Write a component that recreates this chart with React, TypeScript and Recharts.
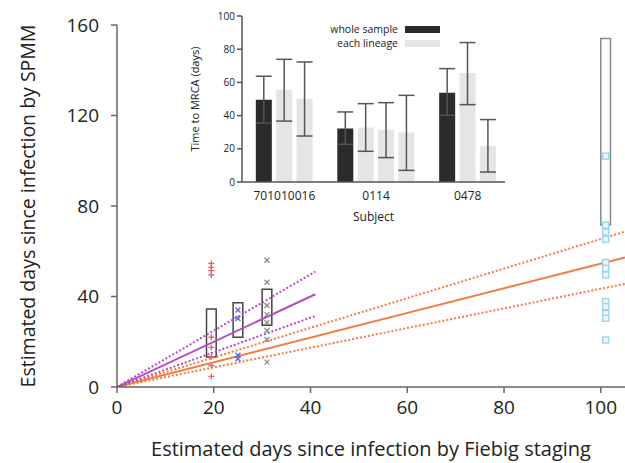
import {
  ComposedChart, Line, Scatter, XAxis, YAxis, ReferenceArea,
  BarChart, Bar, Cell, ErrorBar,
} from 'recharts';

// main panel: Fiebig staging vs SPMM estimate
const fiebigTicks = [0, 20, 40, 60, 80, 100];
const spmmTicks = [0, 40, 80, 120, 160];

const orangeFit = [{ x: 0, y: 0 }, { x: 105, y: 57.3 }];
const orangeUpper = [{ x: 0, y: 0 }, { x: 105, y: 68.7 }];
const orangeLower = [{ x: 0, y: 0 }, { x: 105, y: 45.6 }];
const purpleFit = [{ x: 0, y: 0 }, { x: 41, y: 41 }];
const purpleUpper = [{ x: 0, y: 0 }, { x: 41, y: 51 }];
const purpleLower = [{ x: 0, y: 0 }, { x: 41, y: 31.4 }];

// interquartile boxes per subject
const boxX = [19.5, 25, 31, 101];
const boxLow = [13.3, 22, 27.3, 71.6];
const boxHigh = [34.5, 37.2, 43.2, 154];

const redY = [54.6, 52.9, 51.4, 49.5, 22, 17.5, 13.4, 9.5, 4.7];
const blueY = [34, 30.3, 14, 12.5];
const grayY = [56, 46.3, 36, 32, 28.5, 25, 21, 11];
const cyanY = [102, 71.5, 68.5, 65.3, 55, 52.4, 49.5, 37.7, 35.5, 32.5, 30.4, 20.8];

const redPts = redY.map(y => ({ x: boxX[0], y }));
const bluePts = blueY.map(y => ({ x: boxX[1], y }));
const grayPts = grayY.map(y => ({ x: boxX[2], y }));
const cyanPts = cyanY.map(y => ({ x: boxX[3], y }));

// inset: time to MRCA
const subjects = ['701010016', '0114', '0478'];
const wholeSample = [49.6, 32.2, 53.8];
const wholeLow = [35.5, 22.7, 40.2];
const wholeHigh = [63.7, 42.2, 68.3];
const lineageMean = [[55.7, 50.2], [32.8, 31.6, 29.9], [65.7, 21.7]];
const lineageLow = [[36.7, 27.7], [18.5, 14.7, 7], [46.6, 6]];
const lineageHigh = [[73.9, 72.3], [47.2, 47.8, 52.2], [84, 37.6]];
const mrcaTicks = [0, 20, 40, 60, 80, 100];

const mrcaRows: { slot: number; v: number; err: number[]; kind: string }[] = [];
const subjectTicks: number[] = [];
let slot = 0;
subjects.forEach((_, i) => {
  const first = slot;
  mrcaRows.push({ slot, v: wholeSample[i], err: [wholeSample[i] - wholeLow[i], wholeHigh[i] - wholeSample[i]], kind: 'whole' });
  slot++;
  lineageMean[i].forEach((m, j) => {
    mrcaRows.push({ slot, v: m, err: [m - lineageLow[i][j], lineageHigh[i][j] - m], kind: 'lineage' });
    slot++;
  });
  subjectTicks.push((first + slot - 1) / 2);
  slot++;
});

const DARK = '#2b2b2b';
const LIGHT = '#e5e5e5';
const legendItems = [
  { name: 'whole sample', color: DARK },
  { name: 'each lineage', color: LIGHT },
];

const font = '"Open Sans", sans-serif';
const ink = '#222';
const dotted = '2 2';

const Plus = (p: any) => (
  <path d={`M${p.cx - 3},${p.cy}h6M${p.cx},${p.cy - 3}v6`} stroke="#ef5b6b" strokeWidth={1.3} fill="none" />
);
const Cross = (color: string) => (p: any) => (
  <path d={`M${p.cx - 2.5},${p.cy - 2.5}l5,5M${p.cx + 2.5},${p.cy - 2.5}l-5,5`} stroke={color} strokeWidth={1.3} fill="none" />
);
const Square = (p: any) => (
  <rect x={p.cx - 3} y={p.cy - 3} width={6} height={6} stroke="#9dd6ea" strokeWidth={1.4} fill="#eef8fc" />
);

export default function App() {
  return (
    <div style={{ position: 'absolute', left: 0, top: 0, width: 625, height: 463, background: '#fff', fontFamily: font, overflow: 'hidden' }}>
      <ComposedChart width={625} height={463} margin={{ top: 25, right: 0, bottom: 0, left: 0 }}>
        <XAxis
          type="number" dataKey="x" domain={[0, 105]} ticks={fiebigTicks} allowDataOverflow
          height={76} tickSize={6} tickMargin={8} stroke="#666" strokeWidth={1.5}
          tick={{ fontSize: 19, fill: ink }}
          label={{ value: 'Estimated days since infection by Fiebig staging', position: 'center', dy: 24, fontSize: 20, fill: ink }}
        />
        <YAxis
          type="number" dataKey="y" domain={[0, 160]} ticks={spmmTicks} allowDataOverflow
          width={117} tickSize={6} tickMargin={12} stroke="#666" strokeWidth={1.5}
          tick={{ fontSize: 19, fill: ink }}
          label={{ value: 'Estimated days since infection by SPMM', angle: -90, position: 'center', dx: -30, fontSize: 19.5, fill: ink }}
        />
        {boxX.map((x, i) => (
          <ReferenceArea key={i} x1={x - 1} x2={x + 1} y1={boxLow[i]} y2={boxHigh[i]}
            fill="none" fillOpacity={0} stroke={i === 3 ? '#888' : '#444'} strokeWidth={1.5} ifOverflow="visible" />
        ))}
        <Line data={orangeUpper} dataKey="y" stroke="#f47a3d" strokeWidth={2} strokeDasharray={dotted} dot={false} isAnimationActive={false} />
        <Line data={orangeLower} dataKey="y" stroke="#f47a3d" strokeWidth={2} strokeDasharray={dotted} dot={false} isAnimationActive={false} />
        <Line data={orangeFit} dataKey="y" stroke="#f47a3d" strokeWidth={2} dot={false} isAnimationActive={false} />
        <Line data={purpleUpper} dataKey="y" stroke="#b44cc0" strokeWidth={2} strokeDasharray={dotted} dot={false} isAnimationActive={false} />
        <Line data={purpleLower} dataKey="y" stroke="#b44cc0" strokeWidth={2} strokeDasharray={dotted} dot={false} isAnimationActive={false} />
        <Line data={purpleFit} dataKey="y" stroke="#b44cc0" strokeWidth={2} dot={false} isAnimationActive={false} />
        <Scatter data={redPts} shape={Plus} isAnimationActive={false} />
        <Scatter data={bluePts} shape={Cross('#5868d0')} isAnimationActive={false} />
        <Scatter data={grayPts} shape={Cross('#8a8a8a')} isAnimationActive={false} />
        <Scatter data={cyanPts} shape={Square} isAnimationActive={false} />
      </ComposedChart>

      <div style={{ position: 'absolute', left: 180, top: 0 }}>
        <BarChart width={330} height={230} data={mrcaRows} margin={{ top: 16, right: 5, bottom: 0, left: 0 }}>
          <XAxis
            type="number" dataKey="slot" domain={[-1.08, 11.83]} ticks={subjectTicks} allowDataOverflow
            tickFormatter={(v: number) => subjects[subjectTicks.indexOf(v)] ?? ''}
            height={48} tickLine={false} tickSize={0} tickMargin={9} stroke="#555" strokeWidth={1.5}
            tick={{ fontSize: 12, fill: ink }}
            label={{ value: 'Subject', position: 'center', dy: 11, fontSize: 12, fill: ink }}
          />
          <YAxis
            type="number" domain={[0, 100]} ticks={mrcaTicks}
            width={62} tickSize={5} tickMargin={2} stroke="#555" strokeWidth={1.5}
            tick={{ fontSize: 10, fill: ink }}
            label={{ value: 'Time to MRCA (days)', angle: -90, position: 'center', dx: -16, fontSize: 11, fill: ink }}
          />
          <Bar dataKey="v" barSize={16} isAnimationActive={false}>
            {mrcaRows.map((r, i) => (
              <Cell key={i} fill={r.kind === 'whole' ? DARK : LIGHT} />
            ))}
            <ErrorBar dataKey="err" width={8} stroke="#555" strokeWidth={1.5} />
          </Bar>
        </BarChart>
        <div style={{ position: 'absolute', left: 120, top: 22, fontSize: 10.5, color: ink, lineHeight: '14px' }}>
          {legendItems.map(it => (
            <div key={it.name} style={{ display: 'flex', alignItems: 'center', justifyContent: 'flex-end', width: 140, height: 14 }}>
              <span style={{ marginRight: 7 }}>{it.name}</span>
              <span style={{ display: 'inline-block', width: 35, height: 7, background: it.color }} />
            </div>
          ))}
        </div>
      </div>
    </div>
  );
}
